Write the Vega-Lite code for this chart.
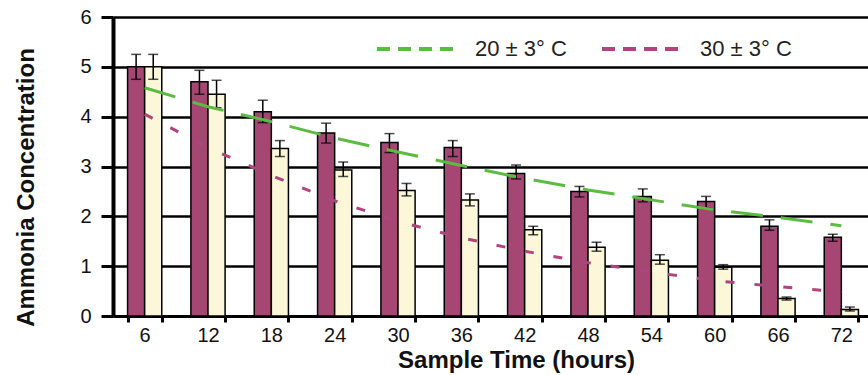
{
  "$schema": "https://vega.github.io/schema/vega-lite/v6.json",
  "width": 760,
  "height": 299,
  "autosize": "none",
  "padding": {"left": 113, "top": 17, "right": 0, "bottom": 59},
  "background": "white",
  "config": {"font": "Liberation Sans", "view": {"stroke": null}},
  "datasets": {
    "bars": [
      {"t": 6, "s": "m", "v": 5.0, "lo": 4.75, "hi": 5.25},
      {"t": 6, "s": "c", "v": 5.0, "lo": 4.75, "hi": 5.25},
      {"t": 12, "s": "m", "v": 4.7, "lo": 4.45, "hi": 4.93},
      {"t": 12, "s": "c", "v": 4.45, "lo": 4.18, "hi": 4.73},
      {"t": 18, "s": "m", "v": 4.1, "lo": 3.88, "hi": 4.33},
      {"t": 18, "s": "c", "v": 3.36, "lo": 3.2, "hi": 3.52},
      {"t": 24, "s": "m", "v": 3.67, "lo": 3.47, "hi": 3.87},
      {"t": 24, "s": "c", "v": 2.93, "lo": 2.8, "hi": 3.09},
      {"t": 30, "s": "m", "v": 3.48, "lo": 3.28, "hi": 3.66},
      {"t": 30, "s": "c", "v": 2.52, "lo": 2.41, "hi": 2.66},
      {"t": 36, "s": "m", "v": 3.38, "lo": 3.2, "hi": 3.52},
      {"t": 36, "s": "c", "v": 2.33, "lo": 2.21, "hi": 2.45},
      {"t": 42, "s": "m", "v": 2.86, "lo": 2.75, "hi": 3.03},
      {"t": 42, "s": "c", "v": 1.73, "lo": 1.63, "hi": 1.8},
      {"t": 48, "s": "m", "v": 2.5, "lo": 2.39, "hi": 2.6},
      {"t": 48, "s": "c", "v": 1.38, "lo": 1.3, "hi": 1.48},
      {"t": 54, "s": "m", "v": 2.4, "lo": 2.29, "hi": 2.55},
      {"t": 54, "s": "c", "v": 1.12, "lo": 1.04, "hi": 1.23},
      {"t": 60, "s": "m", "v": 2.3, "lo": 2.16, "hi": 2.4},
      {"t": 60, "s": "c", "v": 0.98, "lo": 0.94, "hi": 1.03},
      {"t": 66, "s": "m", "v": 1.8, "lo": 1.72, "hi": 1.93},
      {"t": 66, "s": "c", "v": 0.35, "lo": 0.32, "hi": 0.38},
      {"t": 72, "s": "m", "v": 1.58, "lo": 1.5, "hi": 1.64},
      {"t": 72, "s": "c", "v": 0.13, "lo": 0.1, "hi": 0.18}
    ],
    "trend20": [
      {"t": 6, "series": "20 ± 3° C", "v": 4.58},
      {"t": 12, "series": "20 ± 3° C", "v": 4.2},
      {"t": 18, "series": "20 ± 3° C", "v": 3.9},
      {"t": 24, "series": "20 ± 3° C", "v": 3.57},
      {"t": 30, "series": "20 ± 3° C", "v": 3.29},
      {"t": 36, "series": "20 ± 3° C", "v": 3.02},
      {"t": 42, "series": "20 ± 3° C", "v": 2.76},
      {"t": 48, "series": "20 ± 3° C", "v": 2.53},
      {"t": 54, "series": "20 ± 3° C", "v": 2.33},
      {"t": 60, "series": "20 ± 3° C", "v": 2.13},
      {"t": 66, "series": "20 ± 3° C", "v": 1.98},
      {"t": 72, "series": "20 ± 3° C", "v": 1.81}
    ],
    "trend30": [
      {"t": 6, "series": "30 ± 3° C", "v": 4.05},
      {"t": 12, "series": "30 ± 3° C", "v": 3.38},
      {"t": 18, "series": "30 ± 3° C", "v": 2.82},
      {"t": 24, "series": "30 ± 3° C", "v": 2.31},
      {"t": 30, "series": "30 ± 3° C", "v": 1.9},
      {"t": 36, "series": "30 ± 3° C", "v": 1.57},
      {"t": 42, "series": "30 ± 3° C", "v": 1.3},
      {"t": 48, "series": "30 ± 3° C", "v": 1.07},
      {"t": 54, "series": "30 ± 3° C", "v": 0.88},
      {"t": 60, "series": "30 ± 3° C", "v": 0.71},
      {"t": 66, "series": "30 ± 3° C", "v": 0.59},
      {"t": 72, "series": "30 ± 3° C", "v": 0.48}
    ]
  },
  "encoding": {
    "x": {
      "field": "t",
      "type": "ordinal",
      "scale": {"paddingInner": 0.46, "paddingOuter": 0.23},
      "axis": {
        "title": "Sample Time (hours)",
        "labelAngle": 0,
        "labelFontSize": 20,
        "labelColor": "#111",
        "labelPadding": 3,
        "tickBand": "extent",
        "tickSize": 6,
        "tickWidth": 3,
        "tickColor": "black",
        "domainColor": "black",
        "domainWidth": 3,
        "titleFontSize": 24,
        "titleFontWeight": "bold",
        "titleColor": "#111",
        "titleX": 403,
        "titleY": 51,
        "titleBaseline": "alphabetic",
        "grid": false
      }
    }
  },
  "layer": [
    {
      "data": {"name": "bars"},
      "mark": {"type": "bar", "stroke": "black", "strokeWidth": 1.5},
      "encoding": {
        "xOffset": {"field": "s", "type": "nominal", "scale": {"domain": ["m", "c"]}},
        "y": {
          "field": "v",
          "type": "quantitative",
          "scale": {"domain": [0, 6], "nice": false},
          "axis": {
            "title": "Ammonia Concentration",
            "values": [0, 1, 2, 3, 4, 5, 6],
            "grid": true,
            "gridColor": "black",
            "gridWidth": 2.5,
            "gridOpacity": 1,
            "domainColor": "black",
            "domainWidth": 4,
            "tickSize": 12,
            "tickWidth": 3,
            "tickColor": "black",
            "labelFontSize": 20,
            "labelColor": "#111",
            "labelPadding": 10,
            "titleFontSize": 24,
            "titleFontWeight": "bold",
            "titleColor": "#111",
            "titleX": -87,
            "titleY": 170,
            "titleAlign": "center",
            "titleBaseline": "middle"
          }
        },
        "fill": {
          "field": "s",
          "type": "nominal",
          "scale": {"domain": ["m", "c"], "range": ["#a54673", "#fcf7d8"]},
          "legend": null
        }
      }
    },
    {
      "data": {"name": "bars"},
      "mark": {"type": "rule", "color": "black", "strokeWidth": 1.5},
      "encoding": {
        "xOffset": {"field": "s", "type": "nominal", "scale": {"domain": ["m", "c"]}},
        "y": {"field": "hi", "type": "quantitative"},
        "y2": {"field": "lo"}
      }
    },
    {
      "data": {"name": "bars"},
      "mark": {"type": "tick", "color": "black", "size": 10, "thickness": 1.5},
      "encoding": {
        "xOffset": {"field": "s", "type": "nominal", "scale": {"domain": ["m", "c"]}},
        "y": {"field": "hi", "type": "quantitative"}
      }
    },
    {
      "data": {"name": "bars"},
      "mark": {"type": "tick", "color": "black", "size": 10, "thickness": 1.5},
      "encoding": {
        "xOffset": {"field": "s", "type": "nominal", "scale": {"domain": ["m", "c"]}},
        "y": {"field": "lo", "type": "quantitative"}
      }
    },
    {
      "data": {"name": "trend20"},
      "mark": {"type": "line", "strokeWidth": 3, "strokeDash": [32, 18]},
      "encoding": {
        "y": {"field": "v", "type": "quantitative"},
        "stroke": {
          "field": "series",
          "type": "nominal",
          "scale": {"domain": ["20 ± 3° C", "30 ± 3° C"], "range": ["#5cbb42", "#b0457e"]},
          "legend": {
            "title": null,
            "orient": "none",
            "direction": "horizontal",
            "legendX": 262,
            "legendY": -11,
            "labelFontSize": 22,
            "labelColor": "#222",
            "symbolType": "stroke",
            "symbolSize": 6724,
            "symbolStrokeWidth": 4,
            "symbolDash": [13, 8],
            "labelOffset": 14,
            "columnPadding": 27
          }
        }
      }
    },
    {
      "data": {"name": "trend30"},
      "mark": {"type": "line", "strokeWidth": 3, "strokeDash": [9, 20]},
      "encoding": {
        "y": {"field": "v", "type": "quantitative"},
        "stroke": {"field": "series", "type": "nominal"}
      }
    }
  ]
}
